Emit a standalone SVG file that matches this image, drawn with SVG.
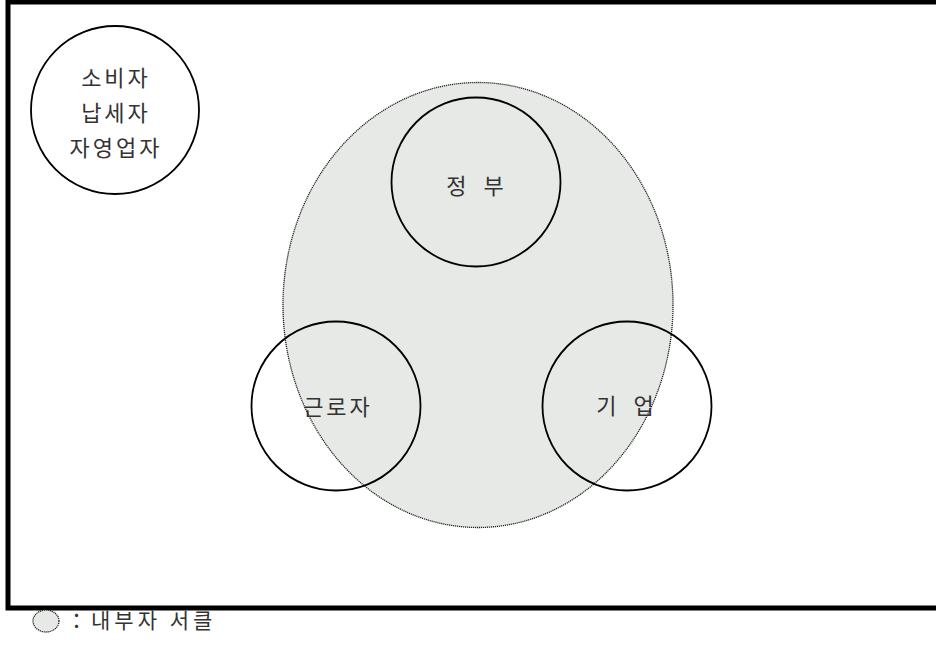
<svg xmlns="http://www.w3.org/2000/svg" width="936" height="659" viewBox="0 0 936 659">
  <style>
    .frame { fill: none; stroke: #000; stroke-width: 5; }
    .node { fill: none; stroke: #000; stroke-width: 1.8; }
    .inner { fill: #e6e9e6; stroke: #222; stroke-width: 1.3; stroke-dasharray: 1.2 0.8; }
    .lbl { font-family: "Noto Sans CJK KR", "Noto Sans", sans-serif; font-size: 22px; fill: #333; text-anchor: middle; dominant-baseline: central; letter-spacing: 3px; }
    .wide { letter-spacing: 6px; }
    .leg { font-family: "Noto Sans CJK KR", "Noto Sans", sans-serif; font-size: 21px; fill: #333; letter-spacing: 4px; }
  </style>
  <rect width="936" height="659" fill="#fff"/>
  <rect class="frame" x="8" y="2" width="940" height="606"/>

  <g id="inner-circle">
    <ellipse class="inner" cx="478" cy="305" rx="195" ry="222.5"/>
  </g>

  <g id="node-consumer">
    <circle class="node" cx="115" cy="110" r="84"/>
    <text class="lbl" x="116" y="76">소비자</text>
    <text class="lbl" x="116" y="111">납세자</text>
    <text class="lbl" x="116" y="146">자영업자</text>
  </g>

  <g id="node-government">
    <circle class="node" cx="476" cy="182" r="84.5"/>
    <text class="lbl wide" x="478" y="184">정 부</text>
  </g>

  <g id="node-worker">
    <circle class="node" cx="336" cy="406" r="84.5"/>
    <text class="lbl" x="338" y="405">근로자</text>
  </g>

  <g id="node-company">
    <circle class="node" cx="627" cy="406" r="84.5"/>
    <text class="lbl wide" x="628" y="404">기 업</text>
  </g>

  <g id="connectors"></g>

  <g id="legend">
    <ellipse class="inner" cx="46" cy="621" rx="13" ry="11"/>
    <text class="leg" x="66" y="628">：내부자 서클</text>
  </g>
</svg>
